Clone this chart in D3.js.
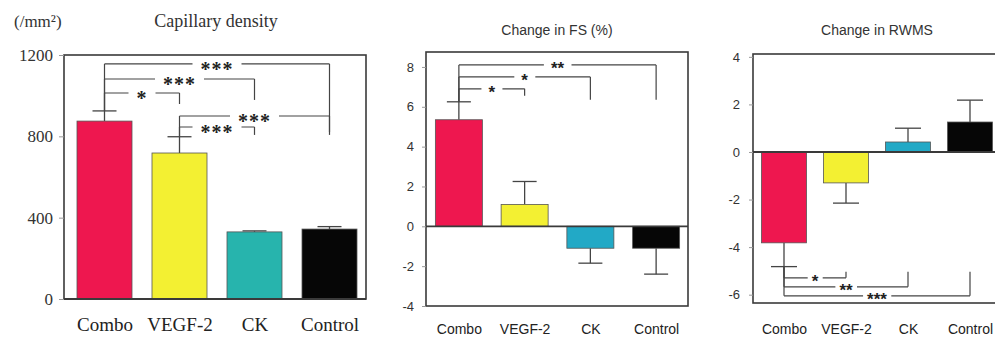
<!DOCTYPE html>
<html>
<head>
<meta charset="utf-8">
<script src="https://cdn.jsdelivr.net/npm/d3@7"></script>
<style>
  body { margin: 0; background: #fff; }
  svg { display: block; }
</style>
</head>
<body>
<div id="chart"></div>
<script>

// groups shared by all three panels
var groups = ["Combo", "VEGF-2", "CK", "Control"];

// capillary density (/mm2)
var capMean = [875, 718, 330, 344];
var capErr = [50, 80, 5, 12];
var capTicks = [0, 400, 800, 1200];
// [from, to, label, line level, end of right leg]
var capSig = [
  [0, 3, "***", 1156, 807],
  [0, 2, "***", 1082, 979],
  [0, 1, "*", 1013, 959],
  [1, 3, "***", 900, 821],
  [1, 2, "***", 846, 807]
];

// change in FS (%)
var fsMean = [5.35, 1.1, -1.1, -1.1];
var fsErr = [0.9, 1.15, 0.75, 1.3];
var fsTicks = [-4, -2, 0, 2, 4, 6, 8];
var fsSig = [
  [0, 3, "**", 8.1, 6.35],
  [0, 2, "*", 7.5, 6.35],
  [0, 1, "*", 6.9, 6.55]
];

// change in RWMS
var rwmsMean = [-3.82, -1.3, 0.42, 1.26];
var rwmsErr = [1.0, 0.85, 0.58, 0.92];
var rwmsTicks = [-6, -4, -2, 0, 2, 4];
var rwmsSig = [
  [0, 1, "*", -5.29, -5.04],
  [0, 2, "**", -5.67, -5.04],
  [0, 3, "***", -6.05, -5.04]
];

var svg = d3.select("#chart")
  .append("svg")
    .attr("width", 995)
    .attr("height", 338);

var axisColor = "#3a3a3a";

var drawPanel = function(p) {
  var g = svg.append("g");

  var x = d3.scalePoint()
    .domain(groups)
    .range([p.xr[0], p.xr[1]])
    .padding(0.5);

  var y = d3.scaleLinear()
    .domain(p.domain)
    .range([p.bottom, p.top]);

  // frame
  g.append("rect")
    .attr("x", p.left)
    .attr("y", p.top)
    .attr("width", p.right - p.left)
    .attr("height", p.bottom - p.top)
    .attr("fill", "none")
    .attr("stroke", axisColor)
    .attr("stroke-width", 1.6);

  // y axis ticks + labels (plain hyphen for negatives, like the original)
  var yAxis = d3.axisLeft(y)
    .tickValues(p.ticks)
    .tickSize(p.tickLen)
    .tickPadding(p.tickPad)
    .tickFormat(function(d) { return String(d); });
  var ya = g.append("g")
    .attr("transform", "translate(" + p.left + ",0)")
    .call(yAxis);
  ya.select(".domain").remove();
  ya.selectAll("line").attr("stroke", "#999").attr("stroke-width", 1);
  ya.selectAll("text")
    .attr("font-family", p.font)
    .attr("font-size", p.tickSize)
    .attr("fill", "#333");

  // x labels
  var xAxis = d3.axisBottom(x).tickSize(0).tickPadding(0);
  var xa = g.append("g")
    .attr("transform", "translate(0," + p.labelY + ")")
    .call(xAxis);
  xa.select(".domain").remove();
  xa.selectAll("text")
    .attr("dy", 0)
    .attr("font-family", p.font)
    .attr("font-size", p.labelSize)
    .attr("fill", "#222");

  var data = groups.map(function(d, i) {
    return {name: d, mean: p.mean[i], err: p.err[i], color: p.colors[i]};
  });

  var errEnd = function(d) {
    return d.mean >= 0 ? d.mean + d.err : d.mean - d.err;
  };

  // error bars (drawn first so bars sit over the stems)
  g.selectAll(".stem")
    .data(data)
    .enter().append("line")
      .attr("x1", function(d) { return x(d.name); })
      .attr("x2", function(d) { return x(d.name); })
      .attr("y1", function(d) { return y(d.mean); })
      .attr("y2", function(d) { return y(errEnd(d)); })
      .attr("stroke", "#444")
      .attr("stroke-width", 1.3);
  g.selectAll(".cap")
    .data(data)
    .enter().append("line")
      .attr("x1", function(d) { return x(d.name) - p.capW / 2; })
      .attr("x2", function(d) { return x(d.name) + p.capW / 2; })
      .attr("y1", function(d) { return y(errEnd(d)); })
      .attr("y2", function(d) { return y(errEnd(d)); })
      .attr("stroke", "#444")
      .attr("stroke-width", 1.3);

  // bars
  g.selectAll(".bar")
    .data(data)
    .enter().append("rect")
      .attr("x", function(d) { return x(d.name) - p.barW / 2; })
      .attr("width", p.barW)
      .attr("y", function(d) { return y(Math.max(0, d.mean)); })
      .attr("height", function(d) { return Math.abs(y(d.mean) - y(0)); })
      .attr("fill", function(d) { return d.color; })
      .attr("stroke", "#555")
      .attr("stroke-width", 0.8);

  // zero line
  g.append("line")
    .attr("x1", p.left)
    .attr("x2", p.right)
    .attr("y1", y(0))
    .attr("y2", y(0))
    .attr("stroke", axisColor)
    .attr("stroke-width", 1.8);

  // significance brackets
  p.sig.forEach(function(s) {
    var xa0 = x(groups[s[0]]);
    var xb0 = x(groups[s[1]]);
    var yl = y(s[3]);
    var bg = g.append("g");
    bg.append("line")
      .attr("x1", xa0).attr("x2", xa0)
      .attr("y1", y(errEnd(data[s[0]]))).attr("y2", yl);
    bg.append("line")
      .attr("x1", xa0).attr("x2", xb0)
      .attr("y1", yl).attr("y2", yl);
    bg.append("line")
      .attr("x1", xb0).attr("x2", xb0)
      .attr("y1", yl).attr("y2", y(s[4]));
    bg.selectAll("line")
      .attr("stroke", "#444")
      .attr("stroke-width", 1.2);
    var t = bg.append("text")
      .attr("x", (xa0 + xb0) / 2)
      .attr("y", yl + p.starDy)
      .attr("text-anchor", "middle")
      .attr("font-family", p.starFont)
      .attr("font-size", p.starSize)
      .attr("font-weight", "bold")
      .attr("fill", "#222")
      .attr("letter-spacing", p.starSpace)
      .text(s[2]);
    var bb = t.node().getBBox();
    bg.insert("rect", "text")
      .attr("x", bb.x - p.gap)
      .attr("y", yl - 2)
      .attr("width", bb.width + 2 * p.gap)
      .attr("height", 4)
      .attr("fill", "#fff");
  });

  // title
  g.append("text")
    .attr("x", p.titleX)
    .attr("y", p.titleY)
    .attr("text-anchor", "middle")
    .attr("font-family", p.font)
    .attr("font-size", p.titleSize)
    .attr("fill", "#333")
    .text(p.title);

  return g;
};

var serif = "'Liberation Serif', 'DejaVu Serif', serif";
var sans = "'Liberation Sans', Arial, sans-serif";

var p1 = drawPanel({
  xr: [67, 367], left: 64, right: 366, top: 55, bottom: 299,
  domain: [0, 1200], ticks: capTicks,
  mean: capMean, err: capErr,
  colors: ["#ee174f", "#f3f032", "#27b4ad", "#060606"],
  barW: 55, capW: 24,
  font: serif, tickSize: 17, tickLen: 5, tickPad: 6,
  labelSize: 19, labelY: 331,
  sig: capSig, starFont: serif, starSize: 20, starDy: 12, starSpace: 1, gap: 8,
  title: "Capillary density", titleX: 216, titleY: 27, titleSize: 18
});

p1.append("text")
  .attr("x", 14)
  .attr("y", 27)
  .attr("font-family", serif)
  .attr("font-size", 17)
  .attr("fill", "#333")
  .text("(/mm²)");

drawPanel({
  xr: [426, 689], left: 426, right: 688, top: 52, bottom: 306,
  domain: [-4, 8.75], ticks: fsTicks,
  mean: fsMean, err: fsErr,
  colors: ["#ee174f", "#f3f032", "#22a9c6", "#060606"],
  barW: 47, capW: 24,
  font: sans, tickSize: 13, tickLen: 4, tickPad: 8,
  labelSize: 14, labelY: 334,
  sig: fsSig, starFont: sans, starSize: 17, starDy: 9, starSpace: 0, gap: 7,
  title: "Change in FS (%)", titleX: 557, titleY: 35, titleSize: 14
});

drawPanel({
  xr: [753, 1001], left: 753, right: 1010, top: 54, bottom: 303,
  domain: [-6.35, 4.12], ticks: rwmsTicks,
  mean: rwmsMean, err: rwmsErr,
  colors: ["#ee174f", "#f3f032", "#22a9c6", "#060606"],
  barW: 45, capW: 26,
  font: sans, tickSize: 13, tickLen: 4, tickPad: 9,
  labelSize: 14, labelY: 334,
  sig: rwmsSig, starFont: sans, starSize: 17, starDy: 9, starSpace: 0, gap: 4,
  title: "Change in RWMS", titleX: 877, titleY: 35, titleSize: 14
});

</script>
</body>
</html>
